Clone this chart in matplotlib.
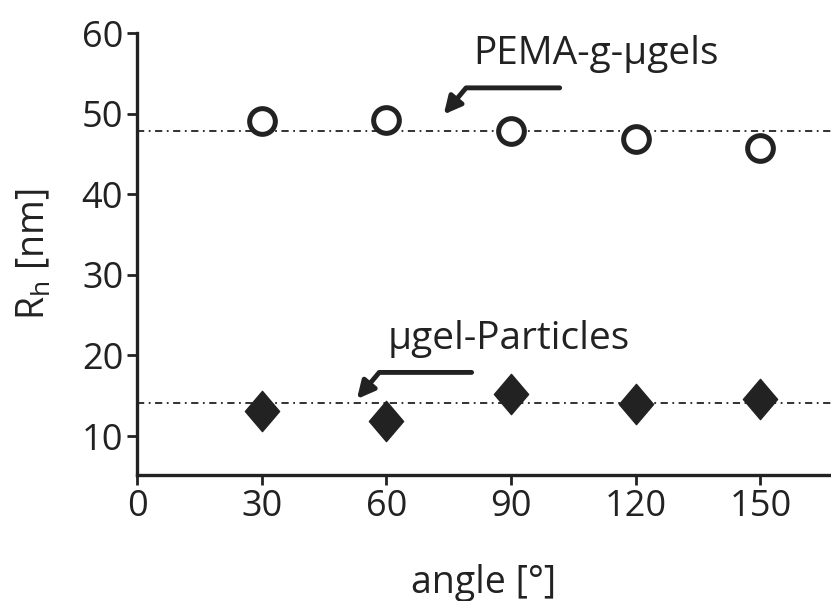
import matplotlib.pyplot as plt
from matplotlib.path import Path

plt.rcParams['font.family'] = ['Open Sans', 'DejaVu Sans']

angles = [30, 60, 90, 120, 150]
rh_pema = [49.05, 49.25, 47.8, 46.9, 45.8]
rh_particles = [13.1, 11.9, 15.25, 14.0, 14.6]
mean_pema = 47.9
mean_particles = 14.15

ink = '#222222'

# slightly tall diamond
diamond = Path([(0, 1), (0.85, 0), (0, -1), (-0.85, 0), (0, 1)],
               [Path.MOVETO, Path.LINETO, Path.LINETO, Path.LINETO, Path.CLOSEPOLY])

fig = plt.figure(figsize=(8.31, 6.01), dpi=100)
ax = fig.add_axes([0.165, 0.21, 0.835, 0.735])

ax.axhline(mean_pema, color=ink, lw=1.3, ls=(0, (4, 2.5, 1, 2.5)), zorder=1)
ax.axhline(mean_particles, color=ink, lw=1.3, ls=(0, (4, 2.5, 1, 2.5)), zorder=1)

ax.plot(angles, rh_pema, 'o', ms=18.5, mfc='white', mec=ink, mew=3.6, ls='none', zorder=3)
ax.plot(angles, rh_particles, marker=diamond, ms=29, mfc=ink, mec=ink, ls='none', zorder=3)

arrow = dict(arrowstyle='-|>', color=ink, lw=3.5, mutation_scale=26,
             connectionstyle='angle,angleA=0,angleB=50,rad=0',
             shrinkA=0, shrinkB=0)
ax.annotate('', xy=(73.8, 49.9), xytext=(101.7, 53.2), arrowprops=arrow)
ax.annotate('', xy=(52.9, 14.6), xytext=(80.5, 17.9), arrowprops=arrow)

ax.text(81.0, 57.4, 'PEMA-g-μgels', fontsize=28, color=ink, va='center', ha='left')
ax.text(60.3, 22.1, 'μgel-Particles', fontsize=28, color=ink, va='center', ha='left')

ax.set_xlim(0, 167)
ax.set_ylim(5.2, 60)
ax.set_xticks([0, 30, 60, 90, 120, 150])
ax.set_yticks([10, 20, 30, 40, 50, 60])

for side in ['top', 'right']:
    ax.spines[side].set_visible(False)
for side in ['left', 'bottom']:
    ax.spines[side].set_linewidth(2.4)
    ax.spines[side].set_color(ink)

ax.tick_params(axis='both', direction='out', length=7, width=2, color=ink,
               labelsize=26, labelcolor=ink, pad=3)

ax.set_xlabel('angle [°]', fontsize=27, color=ink, labelpad=28)
ax.set_ylabel('R$_\\mathregular{h}$ [nm]', fontsize=27, color=ink, labelpad=20)

fig.savefig('out.png', dpi=100)
